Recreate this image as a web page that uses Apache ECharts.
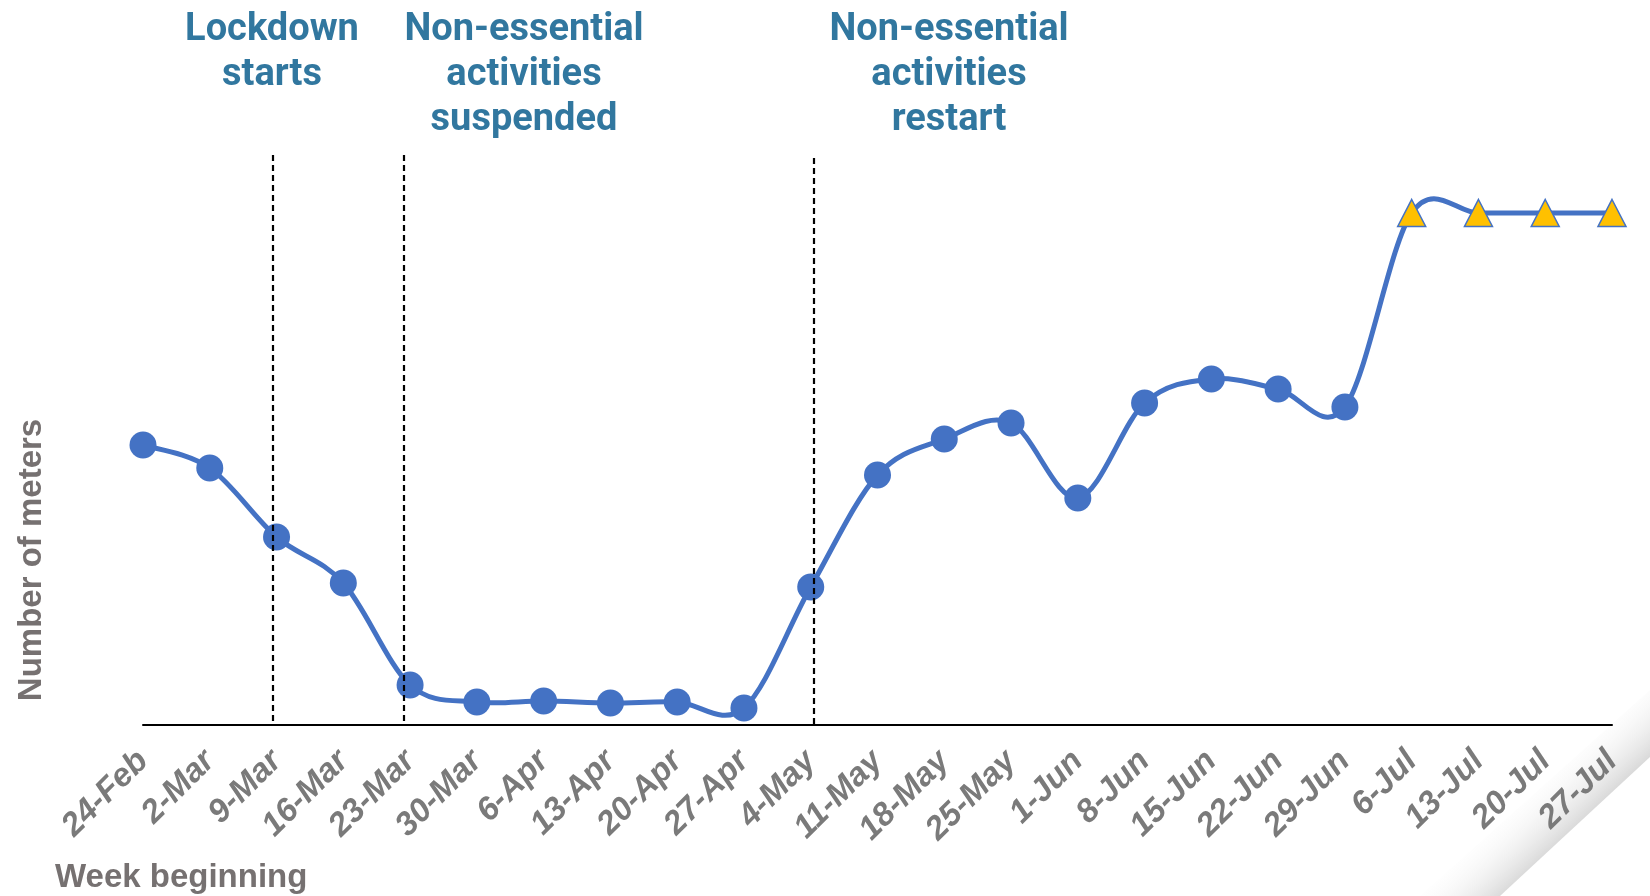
<!DOCTYPE html>
<html>
<head>
<meta charset="utf-8">
<script src="https://cdn.jsdelivr.net/npm/echarts@6/dist/echarts.min.js"></script>
<style>
  html, body { margin: 0; padding: 0; background: #ffffff; }
  #chart { width: 1650px; height: 896px; }
</style>
</head>
<body>
<div id="chart"></div>
<script>
// Weekly meter counts (relative scale, no y ticks shown)
const weeks = ['24-Feb', '2-Mar', '9-Mar', '16-Mar', '23-Mar', '30-Mar', '6-Apr', '13-Apr',
  '20-Apr', '27-Apr', '4-May', '11-May', '18-May', '25-May', '1-Jun', '8-Jun', '15-Jun',
  '22-Jun', '29-Jun', '6-Jul', '13-Jul', '20-Jul', '27-Jul'];
const meters = [280, 257, 188, 142, 40, 23, 24, 22, 23, 17, 138, 250, 286, 302, 227,
  322, 346, 336, 318, 512, 512, 512, 512];
// Weeks drawn with triangle markers (projected values)
const projectedWeeks = ['6-Jul', '13-Jul', '20-Jul', '27-Jul'];

// Policy events: position in weeks from 24-Feb, and top of the marker line
const eventWeek = [1.95, 3.9, 10.05];
const eventTop = [570, 570, 567];
const eventLabels = ['Lockdown\nstarts', 'Non-essential\nactivities\nsuspended', 'Non-essential\nactivities\nrestart'];
const eventLabelX = [272, 524, 949];

const yMax = 570;

const BLUE = '#4472C4';
const GOLD = '#FFC000';
const TITLE_BLUE = '#31779F';
const GREY = '#7A7A7A';
const AXIS_GREY = '#767171';
const SANS = '"Liberation Sans", Arial, sans-serif';

// Curve tension for the spline through the weekly points
const TENSION = 1 / 6;

const markerData = weeks.map((w, i) => {
  if (projectedWeeks.indexOf(w) >= 0) {
    return {
      value: [i, meters[i]],
      symbol: 'triangle',
      symbolSize: [28, 27],
      itemStyle: { color: GOLD, borderColor: BLUE, borderWidth: 1.5, opacity: 1 }
    };
  }
  return { value: [i, meters[i]], symbol: 'circle', symbolSize: 27, itemStyle: { color: BLUE, opacity: 1 } };
});

// One curve segment per pair of consecutive weeks
const segmentData = meters.slice(0, -1).map((v, i) => [i, v]);

function renderSegment(params, api) {
  const i = params.dataIndex;
  const n = meters.length;
  const pt = k => {
    const j = Math.max(0, Math.min(n - 1, k));
    return api.coord([j, meters[j]]);
  };
  const p0 = pt(i - 1), p1 = pt(i), p2 = pt(i + 1), p3 = pt(i + 2);
  return {
    type: 'bezierCurve',
    shape: {
      x1: p1[0], y1: p1[1],
      x2: p2[0], y2: p2[1],
      cpx1: p1[0] + (p2[0] - p0[0]) * TENSION,
      cpy1: p1[1] + (p2[1] - p0[1]) * TENSION,
      cpx2: p2[0] - (p3[0] - p1[0]) * TENSION,
      cpy2: p2[1] - (p3[1] - p1[1]) * TENSION
    },
    style: { stroke: BLUE, lineWidth: 5, fill: null, lineCap: 'round' },
    silent: true
  };
}

const chart = echarts.init(document.getElementById('chart'), null, { renderer: 'canvas' });

const graphics = eventLabels.map((t, i) => ({
  type: 'text',
  x: eventLabelX[i],
  y: 8,
  style: {
    text: t,
    fill: TITLE_BLUE,
    font: 'bold 38px Roboto',
    align: 'center',
    verticalAlign: 'top',
    lineHeight: 45
  }
}));

graphics.push({
  type: 'text',
  x: 32,
  y: 560,
  rotation: Math.PI / 2,
  style: {
    text: 'Number of meters',
    fill: AXIS_GREY,
    font: 'bold 33px ' + SANS,
    align: 'center',
    verticalAlign: 'middle'
  }
});
graphics.push({
  type: 'text',
  x: 55,
  y: 878,
  style: {
    text: 'Week beginning',
    fill: AXIS_GREY,
    font: 'bold 33px ' + SANS,
    align: 'left',
    verticalAlign: 'middle'
  }
});
// soft shadow of the folded page corner
graphics.push({
  type: 'polygon',
  silent: true,
  z: -1,
  shape: { points: [[1650, 690], [1650, 757], [1500, 896], [1420, 896]] },
  style: {
    fill: {
      type: 'linear', global: true,
      x: 1575, y: 827, x2: 1530, y2: 779,
      colorStops: [
        { offset: 0, color: 'rgba(205,205,205,0.75)' },
        { offset: 1, color: 'rgba(255,255,255,0)' }
      ]
    }
  }
});

const option = {
  backgroundColor: '#ffffff',
  animation: false,
  grid: { left: 143, right: 38, top: 155, bottom: 171, containLabel: false },
  xAxis: [
    {
      type: 'category',
      data: weeks,
      boundaryGap: false,
      axisLine: { show: true, lineStyle: { color: '#000000', width: 2 } },
      axisTick: { show: false },
      splitLine: { show: false },
      axisLabel: {
        interval: 0,
        rotate: 45,
        margin: 31,
        color: GREY,
        fontFamily: SANS,
        fontWeight: 'bold',
        fontStyle: 'italic',
        fontSize: 33
      }
    },
    {
      type: 'value',
      min: 0,
      max: weeks.length - 1,
      show: false
    }
  ],
  yAxis: {
    type: 'value',
    min: 0,
    max: yMax,
    show: false,
    splitLine: { show: false }
  },
  series: [
    {
      type: 'custom',
      name: 'Meters curve',
      xAxisIndex: 0,
      renderItem: renderSegment,
      data: segmentData,
      z: 2
    },
    {
      type: 'scatter',
      name: 'Meters',
      xAxisIndex: 0,
      data: markerData,
      itemStyle: { opacity: 1 },
      z: 3
    },
    {
      type: 'line',
      name: 'Events',
      xAxisIndex: 1,
      yAxisIndex: 0,
      data: [],
      markLine: {
        silent: true,
        symbol: ['none', 'none'],
        label: { show: false },
        lineStyle: { color: '#000000', width: 2.2, type: [6, 4] },
        data: eventWeek.map((w, i) => [{ coord: [w, eventTop[i]] }, { coord: [w, 0] }])
      },
      z: 1
    }
  ],
  graphic: graphics
};

chart.setOption(option);
</script>
</body>
</html>
